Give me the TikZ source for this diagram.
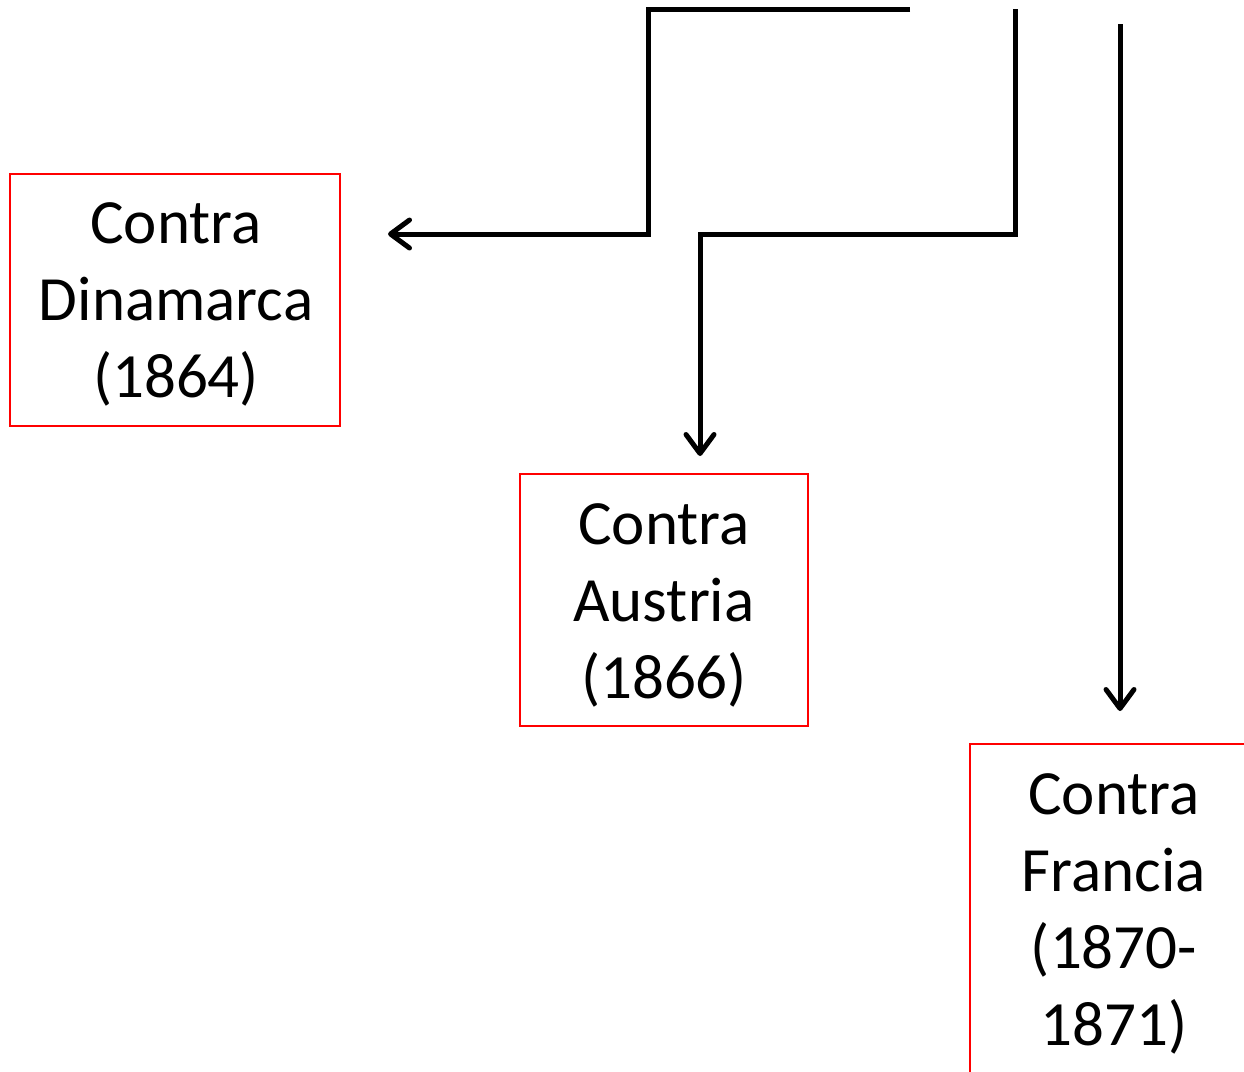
\documentclass[tikz,border=0pt]{standalone}
\usepackage{fontspec}
\setmainfont{Carlito}
\usetikzlibrary{arrows.meta}
\begin{document}
\begin{tikzpicture}[x=1pt,y=-1pt,
  conn/.style={line width=5pt},
  arr/.style={conn,-{Straight Barb[length=19pt,width=28pt,line cap=round,line join=round]}},
  warbox/.style={draw=red,line width=2pt,inner sep=0pt},
  wartext/.style={inner sep=0pt,align=center,font=\fontsize{63}{77}\selectfont}]
\useasboundingbox (0,0) rectangle (1244,1071);
\node[warbox,minimum width=330pt,minimum height=252pt] (dina) at (175,300) {};
\node[wartext] (dinat) at (176,304) {Contra\\Dinamarca\\(1864)};
\node[warbox,minimum width=288pt,minimum height=252pt] (aust) at (664,600) {};
\node[wartext] (austt) at (664,605) {Contra\\Austria\\(1866)};
\node[warbox,minimum width=286pt,minimum height=334pt] (fran) at (1113,911) {};
\node[wartext] (frant) at (1114,914) {Contra\\Francia\\(1870-\\1871)};
\coordinate (s1) at (910,9);
\coordinate (c1) at (648,9);
\coordinate (c1b) at (648,234);
\coordinate (t1) at (388,234);
\coordinate (s2) at (1015,9);
\coordinate (c2) at (1015,234);
\coordinate (c2b) at (700,234);
\coordinate (t2) at (700,456);
\coordinate (s3) at (1120,24);
\coordinate (t3) at (1120,711);
\draw[arr] (s1) -- (c1) -- (c1b) -- (t1);
\draw[arr] (s2) -- (c2) -- (c2b) -- (t2);
\draw[arr] (s3) -- (t3);
\end{tikzpicture}
\end{document}
